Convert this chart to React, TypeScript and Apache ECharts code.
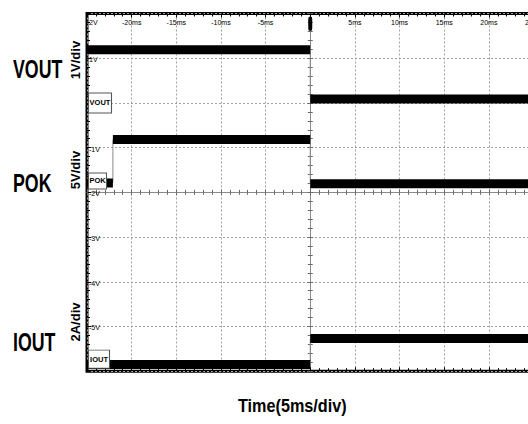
import React, { useEffect, useRef } from "react";
import * as echarts from "echarts";

// Time axis (ms) and vertical divisions
const TIME_MIN = -25;
const TIME_MAX = 25;
const TIME_STEP = 5;
const DIV_MIN = -6;
const DIV_MAX = 2;

// Channel traces: [start ms, end ms, level in divisions]
const voutSegments = [
  [-25, 0, 1.19],
  [0, 25, 0.09],
];
const pokSegments = [
  [-25, -22.1, -1.79],
  [-22.1, 0, -0.82],
  [0, 25, -1.81],
];
const ioutSegments = [
  [-25, 0, -5.85],
  [0, 25, -5.27],
];

// Fast edges: [time ms, from level, to level]
const edges = [
  [0, 1.19, 0.09],
  [-22.1, -1.79, -0.82],
  [0, -0.82, -1.81],
  [0, -5.85, -5.27],
];

// Channel ground markers: [name, level]
const markers = [
  ["VOUT", 0],
  ["POK", -1.745],
  ["IOUT", -5.73],
];

// Trigger position: [time ms, level]
const trigger = [0, 1.77];

const SANS = "'Liberation Sans', Arial, sans-serif";

const GRID = { left: 87, top: 13.5, width: 446.5, height: 357.7 };

function tickAxisBase(min: number, max: number, interval: number) {
  return {
    type: "value" as const,
    min,
    max,
    interval,
    axisLine: { show: false, onZero: false },
    axisTick: { show: true, inside: true, length: 4, lineStyle: { color: "#000", width: 1 } },
    minorTick: { show: true, splitNumber: 5, length: 3, lineStyle: { color: "#000", width: 1 } },
    axisLabel: { show: false },
    splitLine: { show: false },
  };
}

function centerAxis(min: number, max: number, interval: number, inside: boolean, withLine: boolean) {
  return {
    ...tickAxisBase(min, max, interval),
    axisLine: { show: withLine, onZero: false, lineStyle: { color: "#8a8a8a", width: 1 } },
    axisTick: { show: true, inside, length: 3, lineStyle: { color: "#6a6a6a", width: 1 } },
    minorTick: { show: true, splitNumber: 5, length: 2.5, lineStyle: { color: "#6a6a6a", width: 1 } },
  };
}

function bandSeries(segments: number[][], marker?: any) {
  return segments.map((s, i) => ({
    type: "line",
    xAxisIndex: 0,
    yAxisIndex: 0,
    showSymbol: false,
    symbol: "none",
    lineStyle: { color: "#000", width: 9, cap: "butt" },
    data: [
      [s[0], s[2]],
      [s[1], s[2]],
    ],
    markPoint: i === 0 && marker ? marker : undefined,
    z: 3,
  }));
}

function channelMarker(name: string, level: number, w: number, h: number) {
  return {
    coord: [TIME_MIN, level],
    symbol: "rect",
    symbolSize: [w, h],
    symbolOffset: [w / 2 + 1.5, 0],
    itemStyle: { color: "#fff", borderColor: "#555", borderWidth: 1 },
    label: {
      show: true,
      position: "inside",
      formatter: name,
      color: "#000",
      fontSize: 7.5,
      fontWeight: "bold",
      fontFamily: SANS,
    },
  };
}

function sideLabel(text: string, x: number, y: number, size: number, scaleX: number) {
  return {
    type: "text",
    x,
    y,
    scaleX,
    style: {
      text,
      font: `bold ${size}px ${SANS}`,
      fill: "#000",
      align: "left",
      verticalAlign: "middle",
    },
  };
}

function scaleLabel(text: string, x: number, y: number) {
  return {
    type: "text",
    x,
    y,
    rotation: Math.PI / 2,
    style: { text, font: `bold 13px ${SANS}`, fill: "#000", align: "center", verticalAlign: "middle" },
  };
}

export default function App() {
  const ref = useRef<HTMLDivElement>(null);

  useEffect(() => {
    if (!ref.current) return;
    const chart = echarts.init(ref.current, null, { renderer: "svg" });
    const markerSizes: Record<string, [number, number]> = {
      VOUT: [23, 20],
      POK: [18, 16],
      IOUT: [21, 18],
    };
    const markOf = (idx: number) => {
      const [name, level] = markers[idx] as [string, number];
      const [w, h] = markerSizes[name];
      return { data: [channelMarker(name, level, w, h)], z: 6 };
    };

    const halfW = GRID.width / 2;
    const halfH = GRID.height / 2;
    const gridLine = { show: true, lineStyle: { color: "#a0a0a0", width: 1, type: [2, 2] } };

    const option: any = {
      animation: false,
      backgroundColor: "#fff",
      grid: {
        ...GRID,
        outerBoundsMode: "none",
        containLabel: false,
        show: true,
        borderColor: "#000",
        borderWidth: 3,
        backgroundColor: "transparent",
      },
      xAxis: [
        {
          ...tickAxisBase(TIME_MIN, TIME_MAX, TIME_STEP),
          position: "top",
          axisLabel: {
            show: true,
            inside: true,
            margin: 5,
            fontSize: 7,
            color: "#000",
            fontFamily: SANS,
            showMinLabel: true,
            showMaxLabel: true,
            formatter: (v: number) => (v === TIME_MIN || v === 0 ? "" : `${v}ms`),
          },
          splitLine: gridLine,
        },
        { ...tickAxisBase(TIME_MIN, TIME_MAX, TIME_STEP), position: "bottom" },
        { ...centerAxis(TIME_MIN, TIME_MAX, TIME_STEP, true, true), position: "bottom", offset: -halfH },
        { ...centerAxis(TIME_MIN, TIME_MAX, TIME_STEP, false, false), position: "bottom", offset: -halfH },
      ],
      yAxis: [
        {
          ...tickAxisBase(DIV_MIN, DIV_MAX, 1),
          position: "left",
          axisLabel: {
            show: true,
            inside: true,
            margin: 2,
            fontSize: 7,
            color: "#000",
            fontFamily: SANS,
            verticalAlign: "middle",
            padding: [3, 0, 0, 0],
            showMinLabel: true,
            showMaxLabel: true,
            formatter: (v: number) => {
              if (v === DIV_MAX) return `{t|${v}V}`;
              if (v === 0 || v === DIV_MIN) return "";
              return `${v}V`;
            },
            rich: { t: { padding: [14, 0, 0, 0], fontSize: 7, fontFamily: SANS, color: "#000" } },
          },
          splitLine: gridLine,
        },
        { ...centerAxis(DIV_MIN, DIV_MAX, 1, true, true), position: "left", offset: -halfW },
        { ...centerAxis(DIV_MIN, DIV_MAX, 1, false, false), position: "left", offset: -halfW },
      ],
      series: [
        ...edges.map((e) => ({
          type: "line",
          xAxisIndex: 0,
          yAxisIndex: 0,
          showSymbol: false,
          symbol: "none",
          lineStyle: { color: "#8a8a8a", width: 1 },
          data: [
            [e[0], e[1]],
            [e[0], e[2]],
          ],
          z: 2,
        })),
        ...bandSeries(voutSegments, {
          z: 6,
          data: [
            ...markOf(0).data,
            {
              coord: trigger,
              symbol: "roundRect",
              symbolSize: [4, 14],
              itemStyle: { color: "#000" },
              label: { show: false },
            },
          ],
        }),
        ...bandSeries(pokSegments, markOf(1)),
        ...bandSeries(ioutSegments, markOf(2)),
      ],
      graphic: [
        sideLabel("VOUT", 13, 69, 25, 0.71),
        sideLabel("POK", 13, 183, 25, 0.71),
        sideLabel("IOUT", 13, 342.5, 25, 0.71),
        scaleLabel("1V/div", 75, 60),
        scaleLabel("5V/div", 75, 170),
        scaleLabel("2A/div", 75, 322),
        {
          type: "text",
          x: 238,
          y: 406.5,
          scaleX: 0.9,
          style: { text: "Time(5ms/div)", font: `bold 18px ${SANS}`, fill: "#000", align: "left", verticalAlign: "middle" },
        },
      ],
    };

    chart.setOption(option);
    return () => chart.dispose();
  }, []);

  return <div ref={ref} style={{ position: "fixed", left: 0, top: 0, width: 528, height: 424 }} />;
}
